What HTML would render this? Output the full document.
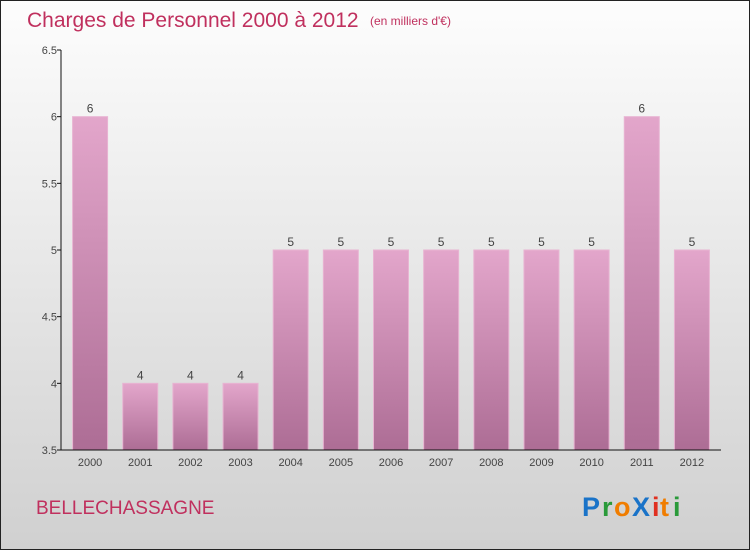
<!DOCTYPE html>
<html><head><meta charset="utf-8"><style>
html,body{margin:0;padding:0}
body{width:750px;height:550px;overflow:hidden;font-family:"Liberation Sans",sans-serif}
</style></head><body>
<svg width="750" height="550" xmlns="http://www.w3.org/2000/svg">
<defs>
<linearGradient id="bg" x1="0" y1="0" x2="0" y2="1"><stop offset="0" stop-color="#fdfdfd"/><stop offset="1" stop-color="#d0d0d0"/></linearGradient>
<linearGradient id="bar" x1="0" y1="0" x2="0" y2="1"><stop offset="0" stop-color="#e3a6cb"/><stop offset="1" stop-color="#ad6d95"/></linearGradient>
</defs>
<rect x="0.5" y="0.5" width="749" height="549" fill="url(#bg)" stroke="#222"/>
<text x="27" y="27" font-size="21" fill="#c0305e">Charges de Personnel 2000 à 2012</text>
<text x="370" y="25" font-size="12" fill="#c0305e">(en milliers d'€)</text>
<g id="plot"></g>
<text x="36" y="514" font-size="19" fill="#c0305e">BELLECHASSAGNE</text>
<g font-size="27" font-weight="bold" font-family="'Liberation Sans',sans-serif">
<text x="582" y="516" fill="#1a73c8">P</text><text x="602" y="516" fill="#2a9a3a">r</text><text x="614" y="516" fill="#f07d00">o</text><text x="632" y="516" fill="#1a73c8">X</text><text x="652" y="516" fill="#e03020">i</text><text x="660" y="516" fill="#f07d00">t</text><text x="673" y="516" fill="#2a9a3a">i</text>
</g>
</svg>
<script>
const categories=["2000","2001","2002","2003","2004","2005","2006","2007","2008","2009","2010","2011","2012"];
const values=[6,4,4,4,5,5,5,5,5,5,5,6,5];
const labels=["6","4","4","4","5","5","5","5","5","5","5","6","5"];
const yTicks=[3.5,4,4.5,5,5.5,6,6.5];
const NS="http://www.w3.org/2000/svg";
const g=document.getElementById('plot');
const x0=61,x1=721,yMin=3.5,yMax=6.5,py0=450,py1=50;
const y=v=>py0-(v-yMin)/(yMax-yMin)*(py0-py1);
const step=(x1-x0-8)/categories.length;
const xc=i=>x0+4+step*(i+0.5);
function el(t,a){const e=document.createElementNS(NS,t);for(const k in a)e.setAttribute(k,a[k]);g.appendChild(e);return e;}
values.forEach((v,i)=>{
 const r=el('rect',{x:xc(i)-17.5,y:y(v),width:35,height:py0-y(v),fill:'url(#bar)',stroke:'#e8b4d2','stroke-width':1});
 
 
 const t=el('text',{x:xc(i),y:y(v)-4,'font-size':12,fill:'#444','text-anchor':'middle'});
 t.textContent=labels[i];
 
 
 const c=el('text',{x:xc(i),y:466,'font-size':11,fill:'#444','text-anchor':'middle'});
 c.textContent=categories[i];
 
 
});
const ya=el('line',{x1:x0,y1:py1,x2:x0,y2:py0,stroke:'#111'});


const xa=el('line',{x1:x0,y1:py0,x2:x1,y2:py0,stroke:'#111'});


yTicks.forEach(v=>{
 el('line',{x1:x0-4,y1:y(v),x2:x0,y2:y(v),stroke:'#111'});
 const t=el('text',{x:x0-4,y:y(v)+4,'font-size':11,fill:'#444','text-anchor':'end'});
 t.textContent=String(v);
 
 
});
</script>
</body></html>
